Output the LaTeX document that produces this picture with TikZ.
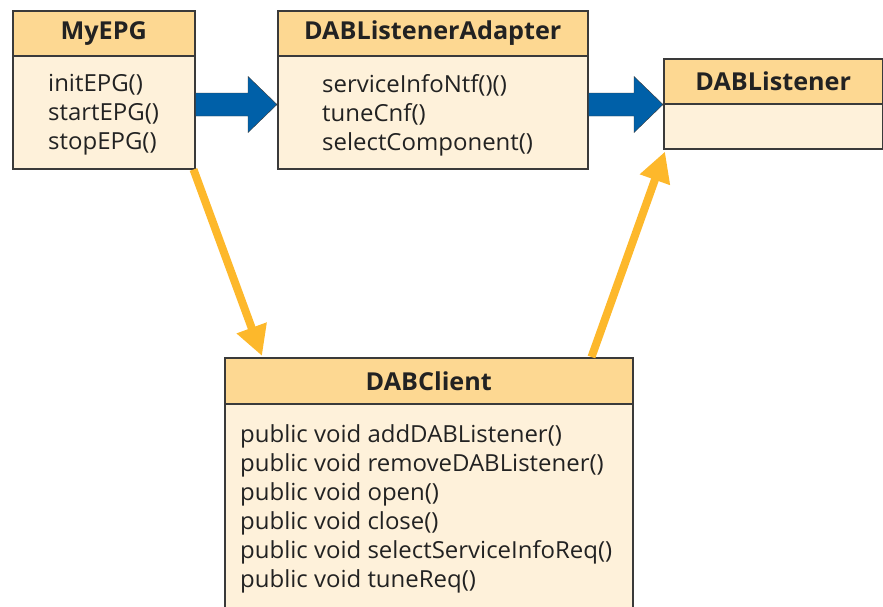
\documentclass[tikz,border=0pt]{standalone}
\usepackage{fontspec}
\setmainfont{Open Sans}[FakeStretch=1.02]
\usetikzlibrary{arrows.meta,calc}
\definecolor{headfill}{HTML}{FDD892}
\definecolor{bodyfill}{HTML}{FEF1DA}
\definecolor{boxline}{HTML}{3A3A3A}
\definecolor{arrowblue}{HTML}{0060A8}
\definecolor{arrowgold}{HTML}{FDB82B}
\definecolor{textcol}{HTML}{222222}
\tikzset{
  classhead/.style={draw=boxline, line width=1.5pt, fill=headfill, anchor=north west,
    inner sep=0pt, text=textcol, font=\fontsize{24.7}{28}\selectfont\bfseries},
  classbody/.style={draw=boxline, line width=1.5pt, fill=bodyfill, anchor=north west,
    inner sep=0pt},
  members/.style={anchor=north west, inner sep=0pt, align=left, text=textcol,
    font=\fontsize{23.5}{29}\selectfont},
  blockarrow/.style={fill=arrowblue, draw=boxline, line width=0.4pt},
  uses/.style={draw=arrowgold, line width=8pt, -{Triangle[length=30pt,width=30pt]}}
}
\begin{document}
\begin{tikzpicture}[x=1pt,y=-1pt]
\useasboundingbox (0,0) rectangle (883,606);

% MyEPG
\node[classhead, minimum width=182pt, minimum height=45pt] (myepgh) at (12,10) {MyEPG};
\node[classbody, minimum width=182pt, minimum height=113pt] (myepgb) at (12,55) {};
\node[members] (myepgm) at (48,74) {initEPG()\\startEPG()\\stopEPG()};

% DABListenerAdapter
\node[classhead, minimum width=310pt, minimum height=45pt] (adapth) at (277,10) {DABListenerAdapter};
\node[classbody, minimum width=310pt, minimum height=113pt] (adaptb) at (277,55) {};
\node[members] (adaptm) at (322,74) {serviceInfoNtf()()\\tuneCnf()\\selectComponent()};

% DABListener
\node[classhead, minimum width=219pt, minimum height=45pt] (listh) at (663,58) {DABListener};
\node[classbody, minimum width=219pt, minimum height=45pt] (listb) at (663,103) {};

% DABClient
\node[classhead, minimum width=408pt, minimum height=46pt] (clienth) at (224,357) {DABClient};
\node[classbody, minimum width=408pt, minimum height=210pt] (clientb) at (224,403) {};
\node[members] (clientm) at (240,424) {public void addDABListener()\\public void removeDABListener()\\public void open()\\public void close()\\public void selectServiceInfoReq()\\public void tuneReq()};

% block arrows along the top row
\fill[blockarrow] let \p1=(myepgb.east), \p2=(adaptb.west |- listh.south) in
  (\x1,\y2+11.5) -- (\x2-29,\y2+11.5) -- (\x2-29,\y2+28) -- (\x2,\y2)
  -- (\x2-29,\y2-28) -- (\x2-29,\y2-11.5) -- (\x1,\y2-11.5) -- cycle;
\fill[blockarrow] let \p1=(adaptb.east), \p2=(listh.south west) in
  (\x1,\y2+11.5) -- (\x2-29,\y2+11.5) -- (\x2-29,\y2+28) -- (\x2,\y2)
  -- (\x2-29,\y2-28) -- (\x2-29,\y2-11.5) -- (\x1,\y2-11.5) -- cycle;

% usage arrows
\draw[uses] ($(myepgb.south east)+(-2,0)$) -- ($(clienth.north west)+(38,-1)$);
\draw[uses] ($(clienth.north east)+(-42,0)$) -- ($(listb.south west)+(2,2)$);
\end{tikzpicture}
\end{document}
